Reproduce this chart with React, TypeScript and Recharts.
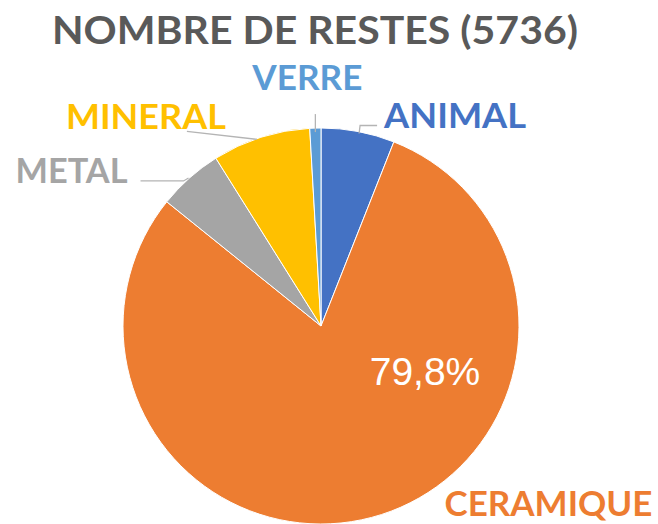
import { PieChart, Pie, Cell } from "recharts";

const categories = ["ANIMAL", "CERAMIQUE", "METAL", "MINERAL", "VERRE"];
const counts = [344, 4577, 304, 459, 52];
const colors = ["#4472C4", "#ED7D31", "#A5A5A5", "#FFC000", "#5B9BD5"];
const totalCount = counts.reduce((s, v) => s + v, 0);
const title = `NOMBRE DE RESTES (${totalCount})`;

const data = categories.map((name, i) => ({ name, value: counts[i], color: colors[i] }));

const RAD = Math.PI / 180;
const FONT = "Lato, 'Open Sans', sans-serif";

// label placement, relative to the point on the rim at the slice's mid angle
const placement: Record<string, { dx: number; dy: number; anchor: "start" | "middle" | "end"; width: number; line: [number, number][] }> = {
  ANIMAL: { dx: 26, dy: -4, anchor: "start", width: 142, line: [[1, 2], [2, -6], [19, -6]] },
  CERAMIQUE: { dx: 73, dy: -1, anchor: "start", width: 208, line: [] },
  METAL: { dx: -62, dy: 5, anchor: "end", width: 112, line: [[-1, 0], [-6, 3], [-49, 3]] },
  MINERAL: { dx: -35, dy: -8, anchor: "end", width: 160, line: [[-4, 2], [-74, -6]] },
  VERRE: { dx: -8, dy: -38, anchor: "middle", width: 110, line: [[0, 4], [0, -14]] },
};

function renderLabel(props: any) {
  const { cx, cy, midAngle, outerRadius, name, percent, index } = props;
  const px = cx + outerRadius * Math.cos(-midAngle * RAD);
  const py = cy + outerRadius * Math.sin(-midAngle * RAD);
  const p = placement[name];
  const pts = p.line.map(([x, y]) => `${px + x},${py + y}`).join(" ");
  return (
    <g key={`lbl-${index}`}>
      {p.line.length > 0 && <polyline points={pts} fill="none" stroke="#B4B4B4" strokeWidth={1.3} />}
      <text
        x={px + p.dx}
        y={py + p.dy}
        textAnchor={p.anchor}
        fill={colors[index]}
        fontFamily={FONT}
        fontWeight={700}
        fontSize={34}
        textLength={p.width}
        lengthAdjust="spacingAndGlyphs"
      >
        {name}
      </text>
      {name === "CERAMIQUE" && (
        <text
          x={cx + 104}
          y={cy + 59}
          textAnchor="middle"
          fill="#FFFFFF"
          fontFamily="'Liberation Sans', Arial, sans-serif"
          fontSize={39}
        >
          {(percent * 100).toFixed(1).replace(".", ",")}%
        </text>
      )}
    </g>
  );
}

export default function App() {
  return (
    <div style={{ position: "absolute", left: 0, top: 0, width: 658, height: 524, background: "#fff" }}>
      <svg width={658} height={60} style={{ position: "absolute", left: 0, top: 0 }}>
        <text
          x={315}
          y={44}
          textAnchor="middle"
          fill="#595959"
          fontFamily={FONT}
          fontWeight={700}
          fontSize={38}
          textLength={526}
          lengthAdjust="spacingAndGlyphs"
        >
          {title}
        </text>
      </svg>
      <div style={{ position: "absolute", left: 0, top: 0 }}>
        <PieChart width={658} height={524} margin={{ top: 0, right: 0, bottom: 0, left: 0 }}>
          <Pie
            data={data}
            dataKey="value"
            nameKey="name"
            cx={321}
            cy={326}
            outerRadius={198}
            startAngle={90}
            endAngle={-270}
            stroke="#FFFFFF"
            strokeWidth={1}
            label={renderLabel}
            labelLine={false}
            isAnimationActive={false}
          >
            {data.map((d, i) => (
              <Cell key={`cell-${i}`} fill={d.color} />
            ))}
          </Pie>
        </PieChart>
      </div>
    </div>
  );
}
